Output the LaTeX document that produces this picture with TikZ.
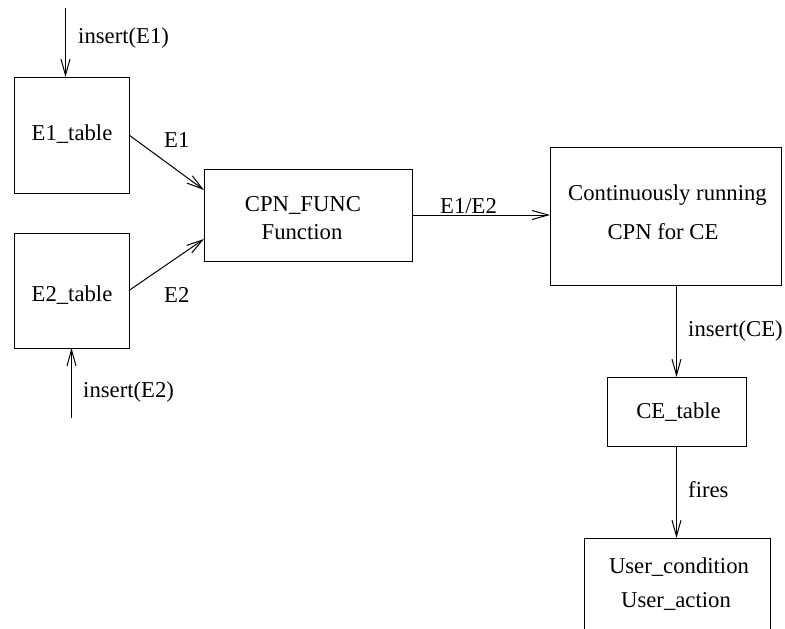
\documentclass[tikz,border=0pt]{standalone}
\usepackage{fontspec}
\setmainfont{Liberation Serif}
\usetikzlibrary{arrows.meta}
\begin{document}
\begin{tikzpicture}[x=1pt,y=-1pt,
  every node/.style={font=\fontsize{22.7}{27}\selectfont},
  box/.style={draw,line width=1pt,inner sep=0pt,outer sep=0pt},
  txt/.style={inner sep=0pt,anchor=base},
  lbl/.style={inner sep=0pt,anchor=base west},
  flow/.style={line width=1pt,-{Straight Barb[length=16pt,width=9pt,line width=1pt]}}]
\useasboundingbox (0,0) rectangle (785,629);
\clip (0,0) rectangle (785,629);

% boxes
\node[box,minimum width=115pt,minimum height=116pt] (e1)   at (71.5,135)   {};
\node[box,minimum width=115pt,minimum height=115pt] (e2)   at (71.5,290.5) {};
\node[box,minimum width=208pt,minimum height=92pt]  (cpn)  at (308,215)    {};
\node[box,minimum width=231pt,minimum height=138pt] (run)  at (665.5,216)  {};
\node[box,minimum width=139pt,minimum height=69pt]  (ce)   at (676.5,411.5){};
\node[box,minimum width=186pt,minimum height=122pt] (user) at (677,599)    {};

% box texts
\node[txt] (t1)  at (72,140)  {E1\_table};
\node[txt] (t2)  at (72,301)  {E2\_table};
\node[txt] (t3a) at (303,211) {CPN\_FUNC};
\node[txt] (t3b) at (302,239) {Function};
\node[txt] (t4a) at (667.5,200) {Continuously running};
\node[txt] (t4b) at (663,239) {CPN for CE};
\node[txt] (t5)  at (678.5,418) {CE\_table};
\node[txt] (t6a) at (679,573) {User\_condition};
\node[txt] (t6b) at (676,607) {User\_action};

% free ends of the input arrows
\coordinate (in1) at (65.5,8);
\coordinate (in2) at (71.5,418);

% connectors
\draw[flow] (in1) -- (in1 |- e1.north);
\draw[flow] (in2) -- (e2.south);
\draw[flow] (e1.east) -- ([yshift=25pt]cpn.west);
\draw[flow] (e2.east) -- ([yshift=-24pt]cpn.west);
\draw[flow] (cpn.east) -- (cpn.east -| run.west);
\draw[flow] (ce.north |- run.south) -- (ce.north);
\draw[flow] (ce.south) -- (ce.south |- user.north);

% connector labels
\node[lbl] (l1) at (78,43)   {insert(E1)};
\node[lbl] (l2) at (164,147) {E1};
\node[lbl] (l3) at (164,302) {E2};
\node[lbl] (l4) at (83,397)  {insert(E2)};
\node[lbl] (l5) at (440,213) {E1/E2};
\node[lbl] (l6) at (688,336) {insert(CE)};
\node[lbl] (l7) at (688,497) {fires};
\end{tikzpicture}
\end{document}
